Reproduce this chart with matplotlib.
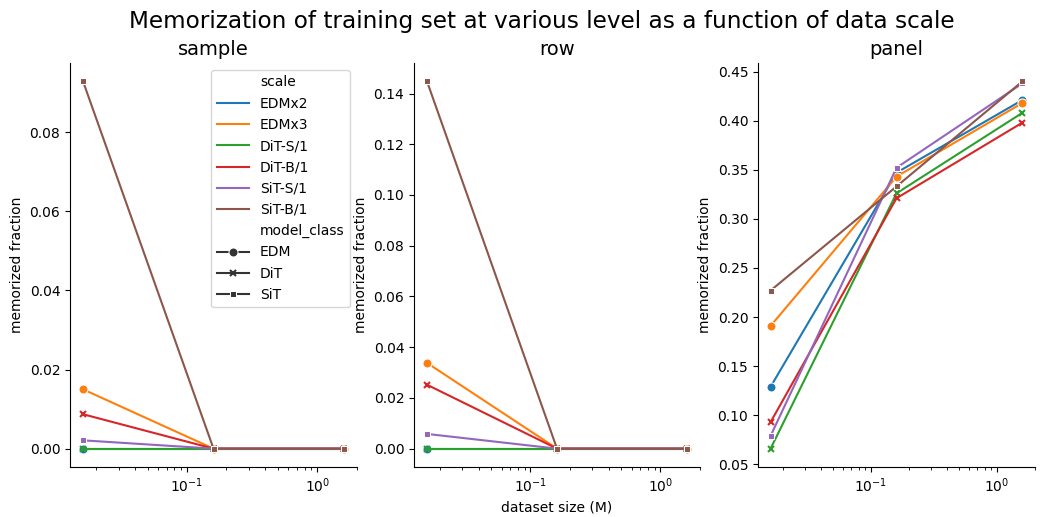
import matplotlib
matplotlib.use('Agg')
import matplotlib.pyplot as plt
from matplotlib.lines import Line2D

# dataset sizes (M)
sizes = [0.016, 0.16, 1.6]

scales = ['EDMx2', 'EDMx3', 'DiT-S/1', 'DiT-B/1', 'SiT-S/1', 'SiT-B/1']
model_class = ['EDM', 'EDM', 'DiT', 'DiT', 'SiT', 'SiT']
colors = ['#1f77b4', '#ff7f0e', '#2ca02c', '#d62728', '#9467bd', '#8c564b']
markers = {'EDM': 'o', 'DiT': 'x', 'SiT': 's'}

# memorized fraction per level, one list per scale
sample = {
    'EDMx2': [0.0, 0.0, 0.0],
    'EDMx3': [0.0150, 0.0, 0.0],
    'DiT-S/1': [0.0, 0.0, 0.0],
    'DiT-B/1': [0.0087, 0.0, 0.0],
    'SiT-S/1': [0.0021, 0.0, 0.0],
    'SiT-B/1': [0.0929, 0.0, 0.0],
}
row = {
    'EDMx2': [0.0, 0.0, 0.0],
    'EDMx3': [0.0338, 0.0, 0.0],
    'DiT-S/1': [0.0, 0.0, 0.0],
    'DiT-B/1': [0.0252, 0.0, 0.0],
    'SiT-S/1': [0.0058, 0.0, 0.0],
    'SiT-B/1': [0.1448, 0.0, 0.0],
}
panel = {
    'EDMx2': [0.129, 0.347, 0.421],
    'EDMx3': [0.191, 0.343, 0.418],
    'DiT-S/1': [0.066, 0.326, 0.408],
    'DiT-B/1': [0.093, 0.321, 0.398],
    'SiT-S/1': [0.079, 0.352, 0.438],
    'SiT-B/1': [0.227, 0.333, 0.440],
}


def marker_kw(m, c):
    if m == 'x':
        return dict(marker='x', ms=4.5, mew=1.5, mec=c)
    if m == 's':
        return dict(marker='s', ms=4.5, mew=0.75, mec='w')
    return dict(marker='o', ms=6.5, mew=0.75, mec='w')


fig = plt.figure(figsize=(10.4, 5.17), dpi=100)
W, H = 1040, 517
boxes = [(70, 357), (414, 700), (758, 1035)]
top, bottom = 63, 467
axes = [fig.add_axes([l / W, 1 - bottom / H, (r - l) / W, (bottom - top) / H])
        for l, r in boxes]

levels = [('sample', sample), ('row', row), ('panel', panel)]
for ax, (name, data) in zip(axes, levels):
    for s, mc, c in zip(scales, model_class, colors):
        ax.plot(sizes, data[s], color=c, lw=1.5, **marker_kw(markers[mc], c))
    ax.set_xscale('log')
    ax.set_title(name, fontsize=14)
    ax.set_ylabel('memorized fraction', fontsize=10)
    ax.spines['top'].set_visible(False)
    ax.spines['right'].set_visible(False)

axes[1].set_xlabel('dataset size (M)', fontsize=10)

# seaborn-like legend
blank = Line2D([], [], linestyle='none')
handles = [blank]
labels = ['scale']
for s, c in zip(scales, colors):
    handles.append(Line2D([], [], color=c, lw=1.5))
    labels.append(s)
handles.append(blank)
labels.append('model_class')
for mc in ['EDM', 'DiT', 'SiT']:
    handles.append(Line2D([], [], color='#333333', lw=1.5,
                          **marker_kw(markers[mc], '#333333')))
    labels.append(mc)
axes[0].legend(handles, labels, loc='upper right', fontsize=10,
               bbox_to_anchor=(1.0, 1.0), labelspacing=0.52, handlelength=2.3)

fig.suptitle('Memorization of training set at various level as a function of data scale',
             fontsize=16.7, x=0.521, y=0.98)

fig.savefig('out.png', dpi=100)
